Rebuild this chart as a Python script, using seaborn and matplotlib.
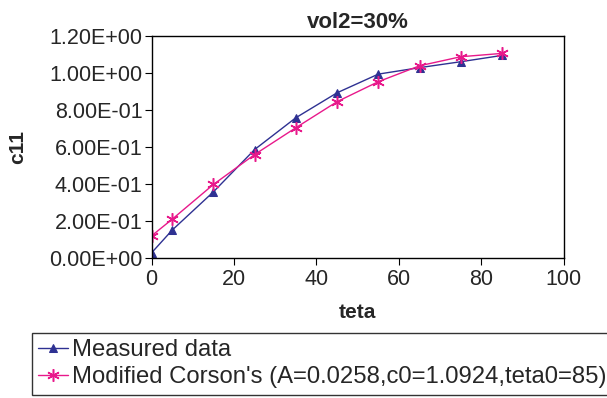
import numpy as np
import pandas as pd
import matplotlib
matplotlib.use("Agg")
import matplotlib.pyplot as plt
from matplotlib.ticker import FuncFormatter
import seaborn as sns

# data
teta = [0, 5, 15, 25, 35, 45, 55, 65, 75, 85]
measured = [0.027, 0.150, 0.357, 0.586, 0.758, 0.893, 0.994, 1.029, 1.061, 1.095]
corson = [0.119, 0.209, 0.397, 0.559, 0.704, 0.845, 0.953, 1.039, 1.088, 1.106]

labels = ["Measured data", "Modified Corson's (A=0.0258,c0=1.0924,teta0=85)"]
colors = ["#2E3192", "#E8198B"]

sns.set_style("ticks")
plt.rcParams["font.family"] = ["Liberation Sans", "DejaVu Sans"]

df = pd.DataFrame({"teta": teta * 2,
                   "c11": measured + corson,
                   "series": [labels[0]] * len(teta) + [labels[1]] * len(teta)})

fig = plt.figure(figsize=(6.07, 3.98), dpi=100)
ax = fig.add_axes([0.2496, 0.352, 0.6794, 0.5575])

sns.lineplot(data=df[df.series == labels[0]], x="teta", y="c11", color=colors[0],
             marker="^", markersize=6, markeredgecolor=colors[0], linewidth=1.0,
             label=labels[0], ax=ax)
sns.lineplot(data=df[df.series == labels[1]], x="teta", y="c11", color=colors[1],
             marker=(6, 2, 0), markersize=9, markeredgecolor=colors[1],
             markeredgewidth=1.1, linewidth=1.0, label=labels[1], ax=ax)

ax.set_xlim(0, 100)
ax.set_ylim(0, 1.2)
ax.set_xticks(np.arange(0, 101, 20))
ax.set_yticks(np.arange(0, 1.21, 0.2))
ax.yaxis.set_major_formatter(FuncFormatter(lambda v, p: "{:.2E}".format(v)))
ax.tick_params(labelsize=15.5, length=5, width=0.8, color="black")
ax.tick_params(axis="y", pad=1.5)
ax.tick_params(axis="x", pad=3)
for sp in ax.spines.values():
    sp.set_visible(True)
    sp.set_color("black")
    sp.set_linewidth(1.0)

ax.set_title("vol2=30%", fontsize=16, fontweight="bold", pad=6)
ax.set_xlabel("teta", fontsize=15, fontweight="bold", labelpad=9)
ax.set_ylabel("c11", fontsize=15, fontweight="bold")
ax.yaxis.set_label_coords(-0.302, 0.5)

handles, labs = ax.get_legend_handles_labels()
ax.get_legend().remove()
leg = fig.legend(handles, labs, loc="upper left", bbox_to_anchor=(32 / 607, 1 - 333 / 398),
                 fontsize=17.2, frameon=True, fancybox=False, edgecolor="black",
                 handlelength=1.25, handletextpad=0.15, labelspacing=0.2,
                 borderpad=0.27, borderaxespad=0)
leg.get_frame().set_linewidth(1.0)

fig.savefig("out.png", dpi=100)
